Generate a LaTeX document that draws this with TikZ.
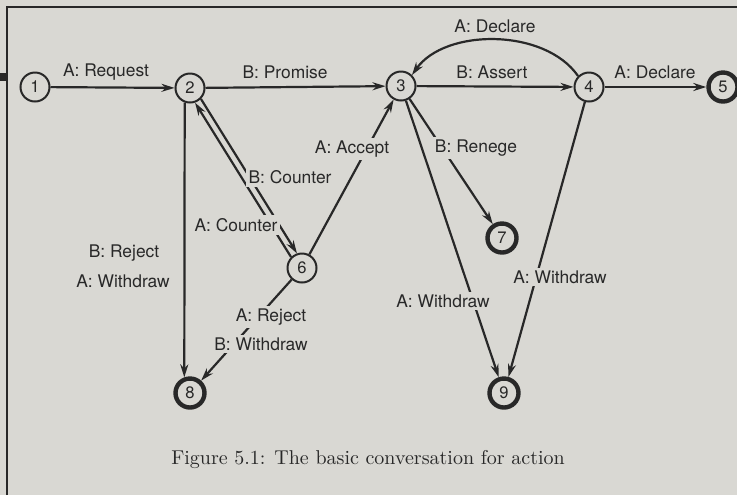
\documentclass[tikz,border=0pt]{standalone}
\usepackage{fontspec}
\newfontfamily\labelfont{TeX Gyre Heros}
\usetikzlibrary{arrows.meta}
\definecolor{paper}{RGB}{217,216,211}
\definecolor{ink}{RGB}{40,40,40}
\tikzset{
  state/.style={draw=ink, circle, line width=1pt, minimum size=14.5pt, inner sep=0pt,
    fill=paper, text=ink, font=\labelfont\fontsize{8.3}{10}\selectfont},
  final/.style={state, line width=2.2pt},
  act/.style={draw=ink, line width=1.1pt, -{Stealth[length=6.5pt,width=4pt]}},
  lbl/.style={fill=paper, inner sep=1.5pt, text=ink, font=\labelfont\fontsize{8.7}{10}\selectfont},
}
\begin{document}
\begin{tikzpicture}[x=0.5pt, y=-0.5pt]
    \useasboundingbox[fill=paper] (0,0) rectangle (737,495);
    \draw[ink, line width=0.7pt] (7,495) -- (7,7) -- (737,7);
    \fill[ink] (0,73) rectangle (7,81);

    \node[state] (n1) at (35,87) {1};
    \node[state] (n2) at (190,88) {2};
    \node[state] (n3) at (401,86) {3};
    \node[state] (n4) at (589,87) {4};
    \node[final] (n5) at (723,87) {5};
    \node[state] (n6) at (302,268) {6};
    \node[final] (n7) at (502,238) {7};
    \node[final] (n8) at (190,393) {8};
    \node[final] (n9) at (504,393) {9};

    \draw[act] (n1) -- (n2);
    \draw[act] (n2) -- (n3);
    \draw[act] (n3) -- (n4);
    \draw[act] (n4) -- (n5);
    \draw[act] (n4.north west) .. controls (545,28) and (445,28) .. (n3.north east);
    \draw[act] (n2.-110) -- (n8.110);
    \draw[act] (n2.-45) -- (n6.109);
    \draw[act] (n6.135) -- (n2.-71);
    \draw[act] (n6) -- (n3);
    \draw[act] (n6) -- (n8);
    \draw[act] (n3) -- (n7);
    \draw[act] (n3) -- (n9);
    \draw[act] (n4) -- (n9);

    \node[lbl] (lReq) at (106,72) {A: Request};
    \node[lbl] (lProm) at (285,72) {B: Promise};
    \node[lbl] (lAssert) at (492,72) {B: Assert};
    \node[lbl] (lDecl) at (655,72) {A: Declare};
    \node[lbl] (lDeclTop) at (495,26) {A: Declare};
    \node[lbl] (lRej) at (124,253) {B: Reject};
    \node[lbl] (lWd) at (123,281) {A: Withdraw};
    \node[lbl] (lBCtr) at (290,177) {B: Counter};
    \node[lbl] (lACtr) at (236,225) {A: Counter};
    \node[lbl] (lAcc) at (352,149) {A: Accept};
    \node[lbl] (lRen) at (476,148) {B: Renege};
    \node[lbl] (lARej) at (271,317) {A: Reject};
    \node[lbl] (lBWd) at (261,344) {B: Withdraw};
    \node[lbl] (lWd3) at (443,301) {A: Withdraw};
    \node[lbl] (lWd4) at (560,277) {A: Withdraw};

    \node[text=ink, font=\fontsize{10}{12}\selectfont] (cap) at (368,459) {Figure 5.1: The basic conversation for action};
\end{tikzpicture}
\end{document}
